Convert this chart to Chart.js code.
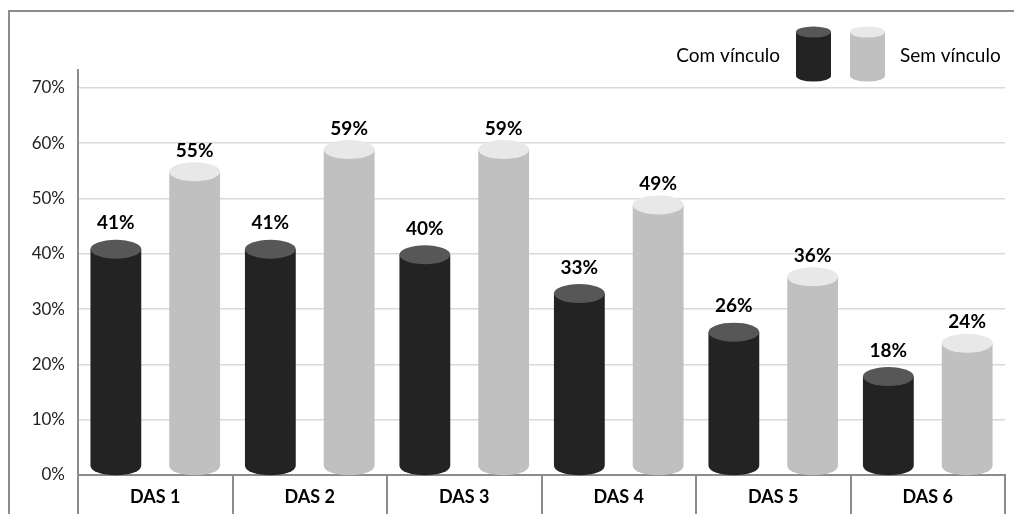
<!DOCTYPE html>
<html>
<head>
<meta charset="utf-8">
<script src="https://cdn.jsdelivr.net/npm/chart.js@4/dist/chart.umd.min.js"></script>
<style>
  html, body { margin: 0; padding: 0; background: #fff; }
  #wrap { width: 1014px; height: 514px; }
</style>
</head>
<body>
<div id="wrap"><canvas id="barChart" width="1014" height="514"></canvas></div>
<script>
const categories = ["DAS 1", "DAS 2", "DAS 3", "DAS 4", "DAS 5", "DAS 6"];
const seriesNames = ["Com vínculo", "Sem vínculo"];
const comVinculo = [41, 41, 40, 33, 26, 18];
const semVinculo = [55, 59, 59, 49, 36, 24];
const yTicks = [0, 10, 20, 30, 40, 50, 60, 70];

const bodyColors = ["#232323", "#c0c0c0"];
const topColors = ["#575757", "#e8e8e8"];
const labelOffsets = [-25, -20];

function cylinder(ctx, x, yTop, yBase, w, ry, body, top) {
  const rx = w / 2;
  ctx.fillStyle = body;
  ctx.beginPath();
  ctx.moveTo(x - rx, yTop);
  ctx.lineTo(x - rx, yBase);
  ctx.ellipse(x, yBase, rx, ry, 0, Math.PI, 0, true);
  ctx.lineTo(x + rx, yTop);
  ctx.closePath();
  ctx.fill();
  ctx.fillStyle = top;
  ctx.beginPath();
  ctx.ellipse(x, yTop, rx, ry, 0, 0, Math.PI * 2);
  ctx.fill();
}

const cylinders = {
  id: "cylinders",
  beforeDraw(chart) {
    const ctx = chart.ctx;
    ctx.save();
    ctx.strokeStyle = "#8c8c8c";
    ctx.lineWidth = 2;
    ctx.beginPath();
    ctx.moveTo(9, 514);
    ctx.lineTo(9, 11);
    ctx.lineTo(1014, 11);
    ctx.stroke();
    ctx.restore();
  },
  afterDatasetsDraw(chart) {
    const ctx = chart.ctx;
    const ry = 9.5;
    ctx.save();
    chart.data.datasets.forEach((ds, i) => {
      const meta = chart.getDatasetMeta(i);
      meta.data.forEach((bar, j) => {
        cylinder(ctx, bar.x, bar.y + 1, bar.base - ry + 1, bar.width, ry, bodyColors[i], topColors[i]);
        ctx.fillStyle = "#000";
        ctx.font = "bold 19px Lato";
        ctx.textAlign = "center";
        ctx.textBaseline = "middle";
        ctx.fillText(ds.data[j] + "%", bar.x, bar.y + labelOffsets[i]);
      });
    });

    // legend
    ctx.font = "19px Lato";
    ctx.fillStyle = "#000";
    ctx.textBaseline = "alphabetic";
    ctx.textAlign = "right";
    ctx.fillText(seriesNames[0], 780, 62);
    ctx.textAlign = "left";
    ctx.fillText(seriesNames[1], 900, 62);
    cylinder(ctx, 813.5, 32, 76, 35, 5.5, bodyColors[0], topColors[0]);
    cylinder(ctx, 867.5, 32, 76, 35, 5.5, bodyColors[1], topColors[1]);
    ctx.restore();
  }
};

new Chart(document.getElementById("barChart").getContext("2d"), {
  type: "bar",
  data: {
    labels: categories,
    datasets: [
      { label: seriesNames[0], data: comVinculo, backgroundColor: "rgba(0,0,0,0)" },
      { label: seriesNames[1], data: semVinculo, backgroundColor: "rgba(0,0,0,0)" }
    ]
  },
  options: {
    responsive: false,
    maintainAspectRatio: false,
    animation: false,
    categoryPercentage: 1.02,
    barPercentage: 0.645,
    layout: { padding: { left: 0, right: 9, top: 70, bottom: 0 } },
    plugins: {
      legend: { display: false },
      tooltip: { enabled: false }
    },
    scales: {
      x: {
        afterFit(scale) { scale.height = 39; },
        grid: { offset: true, drawOnChartArea: false, drawTicks: true, tickLength: 39, color: "#8c8c8c", lineWidth: 2 },
        border: { color: "#8c8c8c", width: 2 },
        ticks: { color: "#000", font: { family: "Lato", size: 18, weight: "bold" }, padding: -28 }
      },
      y: {
        min: 0,
        max: 73.2,
        afterFit(scale) { scale.width = 78; },
        afterBuildTicks(scale) { scale.ticks = yTicks.map(v => ({ value: v })); },
        grid: { color: "#d9d9d9", lineWidth: 1.5, drawTicks: false },
        border: { color: "#8c8c8c", width: 2 },
        ticks: {
          color: "#222",
          font: { family: "Lato", size: 17 },
          padding: 13,
          callback: v => v + "%"
        }
      }
    }
  },
  plugins: [cylinders]
});
</script>
</body>
</html>
